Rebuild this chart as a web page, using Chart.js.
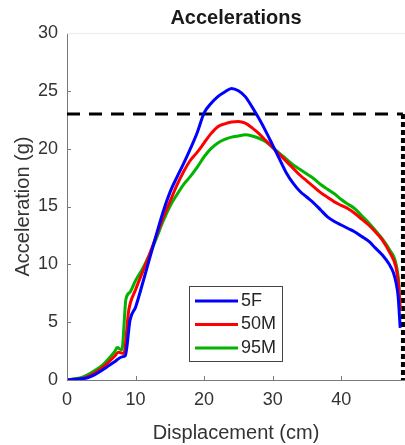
<!DOCTYPE html>
<html>
<head>
<meta charset="utf-8">
<script src="https://cdn.jsdelivr.net/npm/chart.js@4"></script>
<style>
  html, body { margin: 0; padding: 0; background: #fff; overflow: hidden; }
  #wrap { width: 405px; height: 445px; position: relative; }
</style>
</head>
<body>
<div id="wrap"><canvas id="accChart"></canvas></div>
<script>
// series names and colours
const seriesNames = ["5F", "50M", "95M"];
const seriesColors = ["#0000ff", "#ff0000", "#00b400"];

// 5F (blue)
const x5F = [0, 1, 2, 3, 4, 5, 6, 7, 8, 8.5, 9.2, 10, 11, 12, 13, 14, 15, 16, 17, 18, 19, 20, 21, 22, 23, 24, 25, 26, 27, 28, 29, 30, 31, 32, 33, 34, 35, 36, 37, 38, 39, 40, 41, 42, 43, 44, 45, 46, 47, 47.6, 48, 48.3, 48.6];
const y5F = [0, 0.05, 0.1, 0.2, 0.45, 0.8, 1.2, 1.6, 2.0, 2.1, 5.2, 6.3, 8.3, 10.4, 12.5, 14.5, 16.2, 17.5, 18.7, 20.0, 21.4, 23.1, 23.9, 24.5, 24.9, 25.2, 25.0, 24.5, 23.6, 22.6, 21.5, 20.3, 19.1, 17.9, 17.0, 16.3, 15.8, 15.3, 14.7, 14.1, 13.7, 13.4, 13.1, 12.8, 12.4, 12.0, 11.4, 10.8, 10.0, 9.3, 8.4, 7.2, 4.5];

// 50M (red)
const x50M = [0, 1, 2, 3, 4, 5, 6, 7, 7.5, 8.3, 9, 10, 11, 12, 13, 14, 15, 16, 17, 18, 19, 20, 21, 22, 23, 24, 25, 26, 27, 28, 29, 30, 31, 32, 33, 34, 35, 36, 37, 38, 39, 40, 41, 42, 43, 44, 45, 46, 47, 48, 48.4, 48.6];
const y50M = [0, 0.05, 0.12, 0.3, 0.6, 1.0, 1.5, 2.1, 2.4, 2.3, 6.0, 7.8, 9.3, 10.8, 12.4, 14.0, 15.4, 16.8, 18.0, 19.0, 19.7, 20.5, 21.3, 21.9, 22.15, 22.3, 22.35, 22.2, 21.8, 21.3, 20.7, 20.1, 19.5, 18.9, 18.3, 17.7, 17.2, 16.7, 16.2, 15.8, 15.4, 15.1, 14.8, 14.4, 13.9, 13.4, 12.8, 12.1, 11.1, 9.7, 8.0, 6.0];

// 95M (green)
const x95M = [0, 1, 2, 3, 4, 5, 6, 7, 7.3, 8, 8.6, 9.2, 10, 11, 12, 13, 14, 15, 16, 17, 18, 19, 20, 21, 22, 23, 24, 25, 26, 27, 28, 29, 30, 31, 32, 33, 34, 35, 36, 37, 38, 39, 40, 41, 42, 43, 44, 45, 46, 47, 48, 48.4, 48.6];
const y95M = [0, 0.1, 0.2, 0.45, 0.8, 1.2, 1.8, 2.5, 2.8, 2.6, 7.0, 7.6, 8.6, 9.6, 10.8, 12.2, 13.7, 15.0, 16.0, 16.9, 17.6, 18.4, 19.3, 20.0, 20.5, 20.8, 21.0, 21.1, 21.2, 21.1, 20.9, 20.6, 20.1, 19.6, 19.1, 18.6, 18.2, 17.8, 17.4, 16.9, 16.5, 16.1, 15.6, 15.2, 14.8, 14.2, 13.6, 12.9, 12.2, 11.3, 10.0, 8.3, 6.0];

// limit box (dashed horizontal, dotted vertical)
const limitX = [0, 49];
const limitY = [23, 0];

// axis ticks
const xTicks = [0, 10, 20, 30, 40];
const yTicks = [0, 5, 10, 15, 20, 25, 30];

const toPoints = (xs, ys) => xs.map((x, i) => ({ x: x, y: ys[i] }));

const FONT = "'Liberation Sans', Arial, sans-serif";
const textColor = "#333333";
const axisColor = "#7a7a7a";

// inward MATLAB-style tick marks + faint top frame
const innerTicks = {
    id: "innerTicks",
    afterDatasetsDraw(chart) {
        const { ctx, chartArea, scales } = chart;
        ctx.save();
        ctx.strokeStyle = axisColor;
        ctx.lineWidth = 1;
        ctx.beginPath();
        xTicks.forEach(v => {
            const px = Math.round(scales.x.getPixelForValue(v)) + 0.5;
            ctx.moveTo(px, chartArea.bottom);
            ctx.lineTo(px, chartArea.bottom - 4);
        });
        yTicks.forEach(v => {
            const py = Math.round(scales.y.getPixelForValue(v)) + 0.5;
            ctx.moveTo(chartArea.left, py);
            ctx.lineTo(chartArea.left + 4, py);
        });
        ctx.stroke();
        ctx.strokeStyle = "#ececec";
        ctx.beginPath();
        ctx.moveTo(chartArea.left, chartArea.top + 0.5);
        ctx.lineTo(chartArea.right, chartArea.top + 0.5);
        ctx.stroke();
        ctx.restore();
    }
};

// legend box drawn inside the plot
const boxLegend = {
    id: "boxLegend",
    afterDraw(chart) {
        const { ctx } = chart;
        const left = 189, top = 286, w = 93, h = 75;
        ctx.save();
        ctx.fillStyle = "#fff";
        ctx.fillRect(left, top, w, h);
        ctx.strokeStyle = "#444";
        ctx.lineWidth = 1;
        ctx.strokeRect(left + 0.5, top + 0.5, w, h);
        ctx.font = "18px " + FONT;
        ctx.textBaseline = "middle";
        seriesNames.forEach((name, i) => {
            const y = top + 15 + i * 23.5;
            ctx.strokeStyle = seriesColors[i];
            ctx.lineWidth = 3;
            ctx.beginPath();
            ctx.moveTo(left + 6, y);
            ctx.lineTo(left + 49, y);
            ctx.stroke();
            ctx.fillStyle = "#262626";
            ctx.fillText(name, left + 52, y);
        });
        ctx.restore();
    }
};

const lineDefaults = {
    fill: false,
    borderWidth: 3,
    pointRadius: 0,
    cubicInterpolationMode: "monotone"
};

new Chart(document.getElementById("accChart").getContext("2d"), {
    type: "line",
    data: {
        datasets: [
            { label: seriesNames[0], data: toPoints(x5F, y5F), borderColor: seriesColors[0], ...lineDefaults },
            { label: seriesNames[1], data: toPoints(x50M, y50M), borderColor: seriesColors[1], ...lineDefaults },
            { label: seriesNames[2], data: toPoints(x95M, y95M), borderColor: seriesColors[2], ...lineDefaults },
            {
                label: "limit",
                data: [{ x: limitX[0], y: limitY[0] }, { x: limitX[1], y: limitY[0] }],
                borderColor: "#000",
                borderWidth: 3,
                borderDash: [13, 9],
                pointRadius: 0,
                tension: 0
            },
            {
                label: "limit2",
                data: [{ x: limitX[1], y: limitY[0] }, { x: limitX[1], y: limitY[1] }],
                borderColor: "#000",
                borderWidth: 4,
                borderDash: [5, 3],
                pointRadius: 0,
                tension: 0
            }
        ]
    },
    options: {
        responsive: true,
        maintainAspectRatio: false,
        animation: false,
        layout: { padding: { left: 0, right: 0, top: 0, bottom: 0 } },
        scales: {
            x: {
                type: "linear",
                min: 0,
                max: 49.3,
                afterBuildTicks: s => { s.ticks = xTicks.map(v => ({ value: v })); },
                afterFit: s => { s.height = 65; },
                ticks: { color: textColor, font: { family: FONT, size: 18 }, padding: 9, maxRotation: 0 },
                grid: { display: false, drawTicks: false },
                border: { color: axisColor, width: 1 },
                title: { display: true, text: "Displacement (cm)", color: textColor, font: { family: FONT, size: 20 }, padding: { top: 6, bottom: 0 } }
            },
            y: {
                min: 0,
                max: 30,
                afterBuildTicks: s => { s.ticks = yTicks.map(v => ({ value: v })); },
                afterFit: s => { s.width = 67; },
                ticks: { color: textColor, font: { family: FONT, size: 18 }, padding: 9 },
                grid: { display: false, drawTicks: false },
                border: { color: axisColor, width: 1 },
                title: { display: true, text: "Acceleration (g)", color: textColor, font: { family: FONT, size: 20 }, padding: { top: 11, bottom: 0 } }
            }
        },
        plugins: {
            legend: { display: false },
            tooltip: { enabled: false },
            title: {
                display: true,
                fullSize: false,
                text: "Accelerations",
                color: "#1a1a1a",
                font: { family: FONT, size: 20, weight: "bold" },
                padding: { top: 6, bottom: 3 }
            }
        }
    },
    plugins: [innerTicks, boxLegend]
});
</script>
</body>
</html>
